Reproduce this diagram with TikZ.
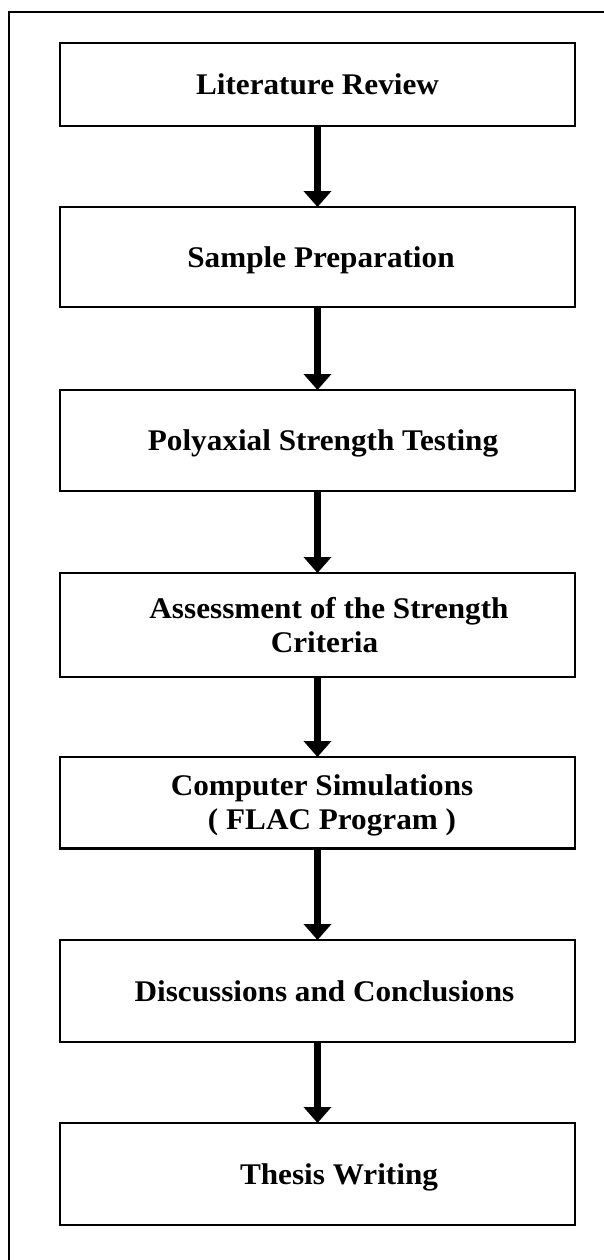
\documentclass[tikz,border=0pt]{standalone}
\usepackage{fontspec}
\setmainfont{Liberation Serif}
\newfontfamily\boxfont[FakeStretch=1.04]{Liberation Serif}
\usetikzlibrary{arrows.meta}
\begin{document}
\begin{tikzpicture}[x=0.5pt,y=-0.5pt,
  stepbox/.style={draw, line width=1.4pt, minimum width=257.5pt, inner sep=0pt, outer sep=0pt},
  lbl/.style={font=\boxfont\bfseries\fontsize{15}{17}\selectfont, anchor=base, inner sep=0pt},
  flow/.style={line width=3.3pt, -{Triangle[width=13.5pt,length=8pt]}}]
\useasboundingbox (0,0) rectangle (604,1260);
\draw[line width=1.3pt] (9,1262) -- (9,12) -- (606,12);

\node[stepbox, minimum height=41.5pt] (b1) at (317.5,84.5) {};
\node[stepbox, minimum height=50pt]   (b2) at (317.5,257) {};
\node[stepbox, minimum height=50.5pt] (b3) at (317.5,440.5) {};
\node[stepbox, minimum height=52pt]   (b4) at (317.5,625) {};
\node[stepbox, minimum height=45.75pt] (b5) at (317.5,802.75) {};
\node[stepbox, minimum height=51pt]   (b6) at (317.5,991) {};
\node[stepbox, minimum height=51pt]   (b7) at (317.5,1174) {};

\node[lbl] (t1) at ([yshift=-5pt]b1.center) {Literature Review};
\node[lbl] (t2) at ([xshift=1.75pt,yshift=-5pt]b2.center) {Sample Preparation};
\node[lbl] (t3) at ([xshift=2.75pt,yshift=-5pt]b3.center) {Polyaxial Strength Testing};
\node[lbl] (t4a) at ([xshift=5.75pt,yshift=3.5pt]b4.center) {Assessment of the Strength};
\node[lbl] (t4b) at ([xshift=3.5pt,yshift=-13.5pt]b4.center) {Criteria};
\node[lbl] (t5a) at ([xshift=2.25pt,yshift=3.5pt]b5.center) {Computer Simulations};
\node[lbl] (t5b) at ([xshift=7.25pt,yshift=-13.5pt]b5.center) {( FLAC Program )};
\node[lbl] (t6) at ([xshift=3.5pt,yshift=-5pt]b6.center) {Discussions and Conclusions};
\node[lbl] (t7) at ([xshift=10.75pt,yshift=-5pt]b7.center) {Thesis Writing};

\foreach \a/\b in {b1/b2,b2/b3,b3/b4,b4/b5,b5/b6,b6/b7}
  \draw[flow] (\a.south) -- (\b.north);
\end{tikzpicture}
\end{document}
